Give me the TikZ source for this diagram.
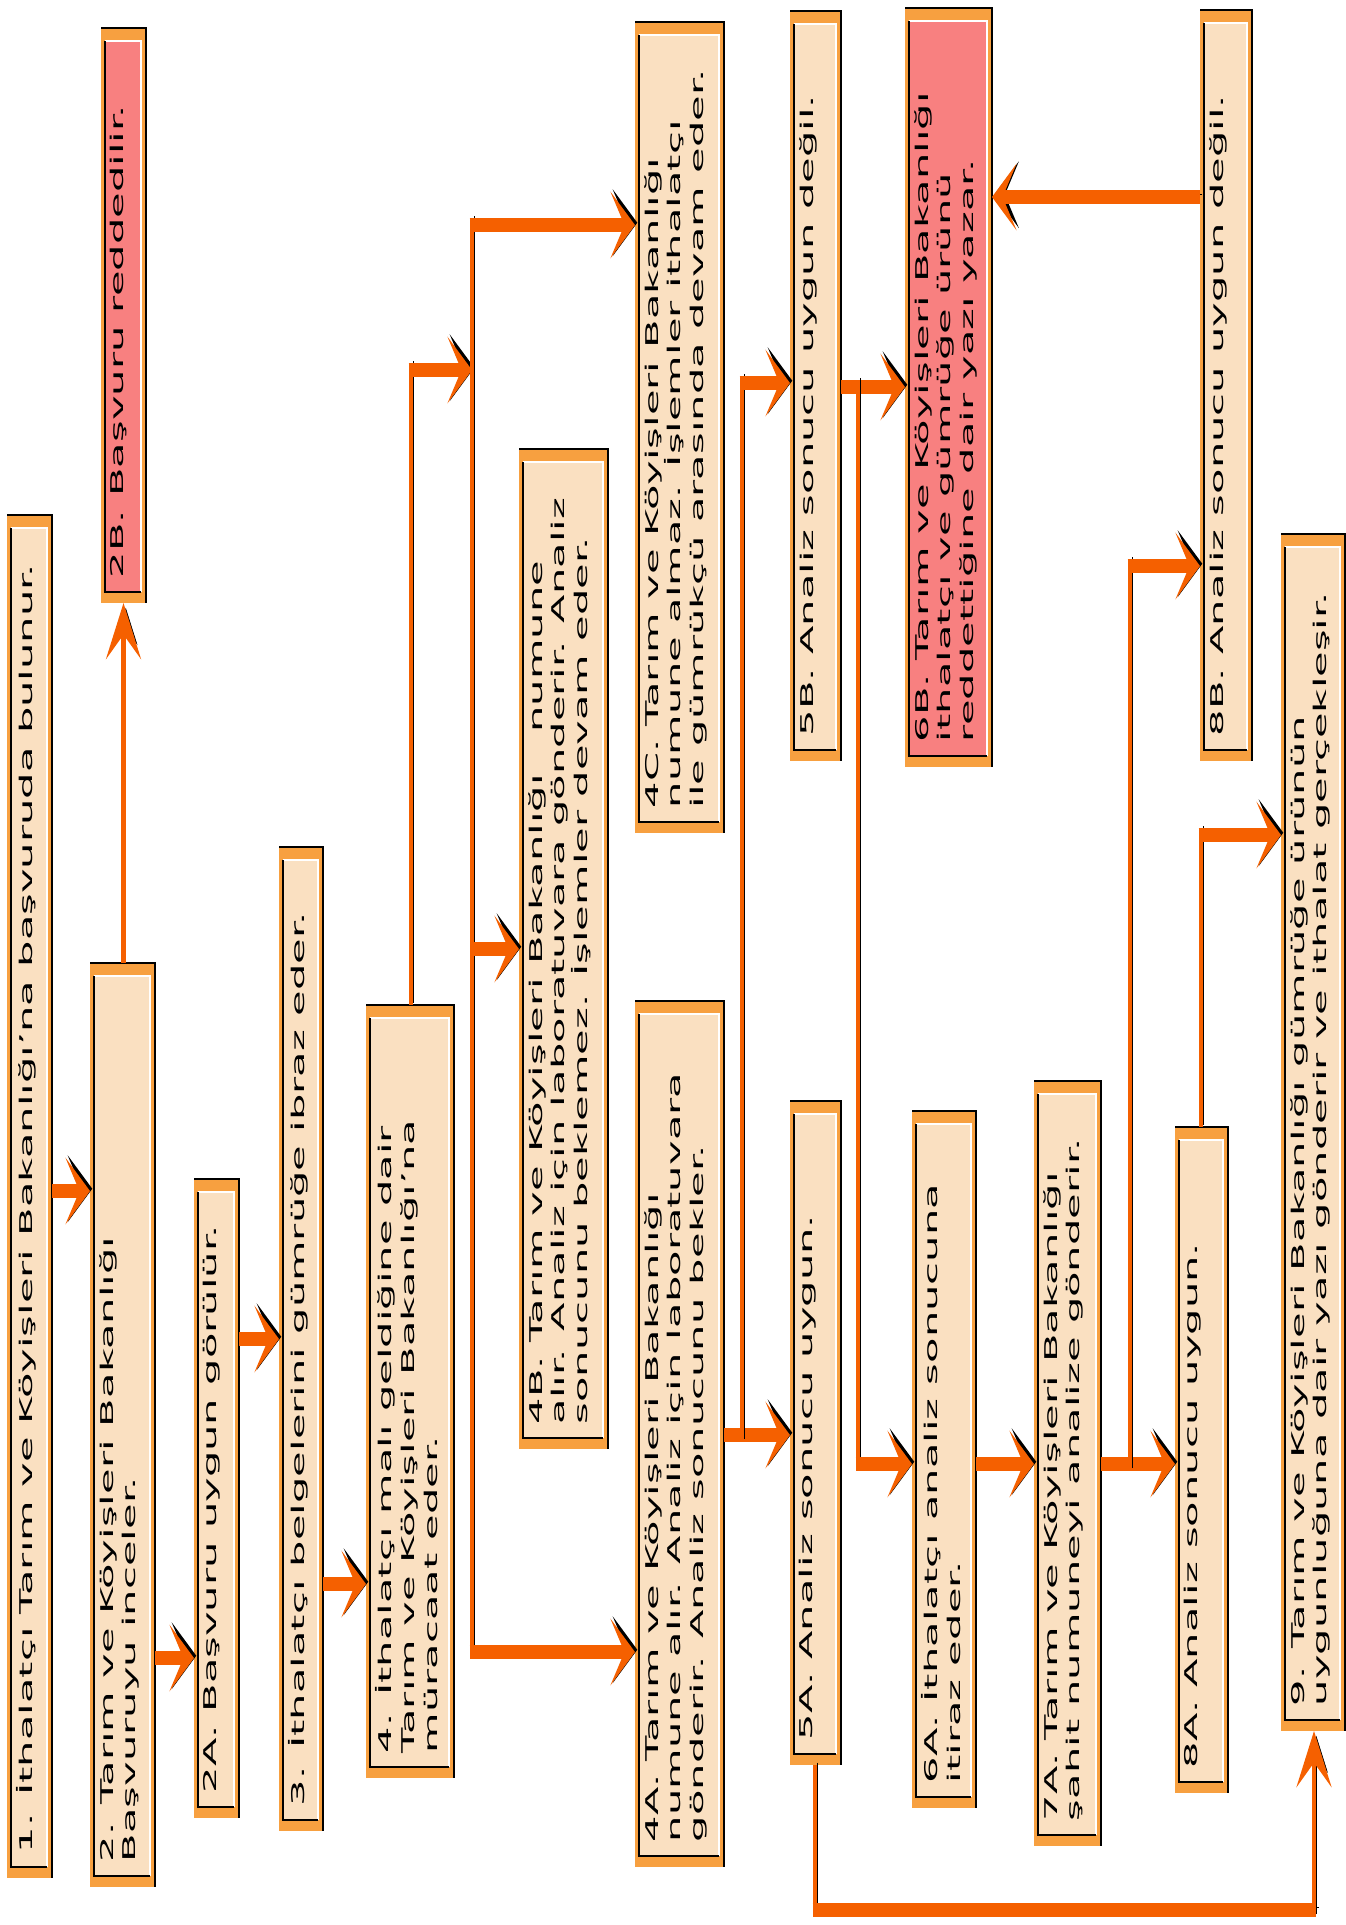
\documentclass[tikz,border=0pt]{standalone}
\usepackage{fontspec}
\setmainfont{DejaVu Sans}
\usetikzlibrary{arrows.meta, fit, calc}
\definecolor{turuncu}{RGB}{247,160,64}
\definecolor{bej}{RGB}{250,224,193}
\definecolor{pembe}{RGB}{248,128,128}
\definecolor{okrenk}{RGB}{245,96,0}
% #1 ad, #2-#5 kose noktalari, #6 ic renk, #7 metin
\newcommand{\kutu}[7]{%
  \node[dis, fit={(#2,#3) (#4,#5)}] (#1) {};
  \fill[#6] ([shift={(4,13)}]#1.north west) rectangle ([shift={(-5,-11)}]#1.south east);
  \draw[kenar] (#1.north west) -- (#1.north east) -- (#1.south east);
  \draw[white, line width=1pt] ([shift={(4,13)}]#1.north west) -- ([shift={(-5,13)}]#1.north east)
    -- ([shift={(-5,-11)}]#1.south east);
  \draw[kenar] ([shift={(4,13)}]#1.north west) -- ([shift={(4,-11)}]#1.south west)
    -- ([shift={(-5,-11)}]#1.south east);
  \node[yazi] (#1-y) at ([shift={(9,-24)}]#1.south west) {#7};
}

\begin{document}
\begin{tikzpicture}[x=0.02cm, y=-0.02cm, >=Stealth]
  \tikzset{
    dis/.style={rectangle, fill=turuncu, inner sep=0pt, outer sep=0pt},
    kenar/.style={black, line width=1.1pt},
    yazi/.style={font=\fontsize{10}{13}\selectfont, inner sep=0pt,
      align=left, rotate=90, xscale=2.37, anchor=north west},
    golge/.style={preaction={draw=black,
      transform canvas={shift={(1.3pt,1.3pt)}}}},
    kalin/.style={golge, draw=okrenk, line width=7.5pt},
    ince/.style={golge, draw=okrenk, line width=2.8pt},
    ok/.style={kalin, -{Stealth[length=14pt, width=38pt, inset=8pt]}},
    okd/.style={ince, -{Stealth[length=32pt, width=20pt, inset=14pt]}},
  }
  \useasboundingbox (0,0) rectangle (1346,1925);
  % Kutular
  \kutu{b1}{7}{515}{52}{1878}{bej}{1. İthalatçı Tarım ve Köyişleri Bakanlığı'na başvuruda bulunur.}
  \kutu{b2B}{101}{28}{146}{603}{pembe}{2B. Başvuru reddedilir.}
  \kutu{b2}{90}{963}{155}{1887}{bej}{2. Tarım ve Köyişleri Bakanlığı\\Başvuruyu inceler.}
  \kutu{b2A}{194}{1179}{239}{1818}{bej}{2A. Başvuru uygun görülür.}
  \kutu{b3}{279}{847}{323}{1831}{bej}{3. İthalatçı belgelerini gümrüğe ibraz eder.}
  \kutu{b4}{366}{1005}{454}{1778}{bej}{4. İthalatçı malı geldiğine dair\\Tarım ve Köyişleri Bakanlığı'na\\müracaat eder.}
  \kutu{b4B}{519}{449}{608}{1449}{bej}{4B. Tarım ve Köyişleri Bakanlığı\hspace{1em}numune\\alır. Analiz için laboratuvara gönderir. Analiz\\sonucunu beklemez. İşlemler devam eder.}
  \kutu{b4C}{635}{22}{724}{833}{bej}{4C. Tarım ve Köyişleri Bakanlığı\\numune almaz. İşlemler ithalatçı\\ile gümrükçü arasında devam eder.}
  \kutu{b4A}{635}{1001}{724}{1867}{bej}{4A. Tarım ve Köyişleri Bakanlığı\\numune alır. Analiz için laboratuvara\\gönderir. Analiz sonucunu bekler.}
  \kutu{b5B}{790}{11}{841}{761}{bej}{5B. Analiz sonucu uygun değil.}
  \kutu{b5A}{790}{1101}{841}{1765}{bej}{5A. Analiz sonucu uygun.}
  \kutu{b6B}{905}{8}{992}{767}{pembe}{6B. Tarım ve Köyişleri Bakanlığı\\ithalatçı ve gümrüğe ürünü\\reddettiğine dair yazı yazar.}
  \kutu{b6A}{912}{1111}{976}{1808}{bej}{6A. İthalatçı analiz sonucuna\\itiraz eder.}
  \kutu{b7A}{1034}{1081}{1101}{1846}{bej}{7A. Tarım ve Köyişleri Bakanlığı\\şahit numuneyi analize gönderir.}
  \kutu{b8B}{1200}{10}{1252}{761}{bej}{8B. Analiz sonucu uygun değil.}
  \kutu{b8A}{1175}{1127}{1228}{1793}{bej}{8A. Analiz sonucu uygun.}
  \kutu{b9}{1281}{534}{1345}{1731}{bej}{9. Tarım ve Köyişleri Bakanlığı gümrüğe ürünün\\uygunluğuna dair yazı gönderir ve ithalat gerçekleşir.}
  % Baglantilar
  \coordinate (p1) at ([shift={(0,676)}]b1.north east);
  \draw[ok] (p1) -- (p1 -| b2.west);
  \draw[okd] (b2B.south |- b2.north) -- (b2B.south);
  \coordinate (p3) at ([shift={(0,695)}]b2.north east);
  \draw[ok] (p3) -- (p3 -| b2A.west);
  \coordinate (p4) at ([shift={(0,160)}]b2A.north east);
  \draw[ok] (p4) -- (p4 -| b3.west);
  \coordinate (p5) at ([shift={(0,737)}]b3.north east);
  \draw[ok] (p5) -- (p5 -| b4.west);
  % dallanma: 4 -> 4A, 4B, 4C
  \coordinate (p6) at ([shift={(45,0)}]b4.north west);
  \coordinate (q6) at ([shift={(45,-635)}]b4.north west);
  \coordinate (d1) at ([shift={(-163,203)}]b4C.north west);
  \coordinate (d3) at ([shift={(-163,651)}]b4A.north west);
  \coordinate (e2) at ([shift={(0,500)}]b4B.north west);
  \draw[ince] (p6) -- ([yshift=3.7pt]q6);
  \draw[ok] ([xshift=-1.4pt]q6) -- (q6 -| d1);
  \draw[ince] ([yshift=3.7pt]d1) -- ([yshift=-3.7pt]d3);
  \draw[ok] ([xshift=-1.4pt]d1) -- (d1 -| b4C.west);
  \draw[ok] (e2 -| d1) -- (e2);
  \draw[ok] ([xshift=-1.4pt]d3) -- (d3 -| b4A.west);
  % 4A -> 5A, 5B
  \coordinate (p10) at ([shift={(0,434)}]b4A.north east);
  \draw[ok] (p10) -- (p10 -| b5A.west);
  \coordinate (k1) at ([shift={(18,0)}]p10);
  \coordinate (q11) at ([shift={(0,372)}]b5B.north west);
  \coordinate (r11) at (k1 |- q11);
  \draw[ince] ([yshift=-3.7pt]k1) -- ([yshift=3.7pt]r11);
  \draw[ok] ([xshift=-1.4pt]r11) -- (q11);
  % 5B -> 6B, 6A
  \coordinate (p12) at ([shift={(0,376)}]b5B.north east);
  \draw[ok] (p12) -- (p12 -| b6B.west);
  \coordinate (k2) at ([shift={(17,0)}]p12);
  \coordinate (q13) at ([shift={(0,353)}]b6A.north west);
  \coordinate (r13) at (k2 |- q13);
  \draw[ince] ([yshift=3.7pt]k2) -- ([yshift=-3.7pt]r13);
  \draw[ok] ([xshift=-1.4pt]r13) -- (q13);
  % 6A -> 7A -> 8A, 8B
  \coordinate (p14) at ([shift={(0,353)}]b6A.north east);
  \draw[ok] (p14) -- (p14 -| b7A.west);
  \coordinate (p15) at ([shift={(0,383)}]b7A.north east);
  \draw[ok] (p15) -- (p15 -| b8A.west);
  \coordinate (k3) at ([shift={(29,0)}]p15);
  \coordinate (q16) at ([shift={(0,556)}]b8B.north west);
  \coordinate (r16) at (k3 |- q16);
  \draw[ince] ([yshift=-3.7pt]k3) -- ([yshift=3.7pt]r16);
  \draw[ok] ([xshift=-1.4pt]r16) -- (q16);
  % 8B -> 6B
  \coordinate (p17) at ([shift={(0,187)}]b8B.north west);
  \draw[ok] (p17) -- (p17 -| b6B.east);
  % 8A -> 9
  \coordinate (p18) at ([shift={(26,0)}]b8A.north west);
  \coordinate (q18) at ([shift={(0,301)}]b9.north west);
  \coordinate (r18) at (p18 |- q18);
  \draw[ince] (p18) -- ([yshift=3.7pt]r18);
  \draw[ok] ([xshift=-1.4pt]r18) -- (q18);
  % 5A -> 9
  \coordinate (p19) at ([shift={(25,0)}]b5A.south west);
  \coordinate (m19) at ([shift={(0,145)}]p19);
  \coordinate (r19) at ([shift={(33,0)}]b9.south west);
  \coordinate (n19) at (m19 -| r19);
  \draw[ince] (p19) -- ([yshift=-3.7pt]m19);
  \draw[kalin] ([xshift=-1.4pt]m19) -- ([xshift=1.4pt]n19);
  \draw[okd] ([yshift=-3.7pt]n19) -- (r19);
\end{tikzpicture}
\end{document}
